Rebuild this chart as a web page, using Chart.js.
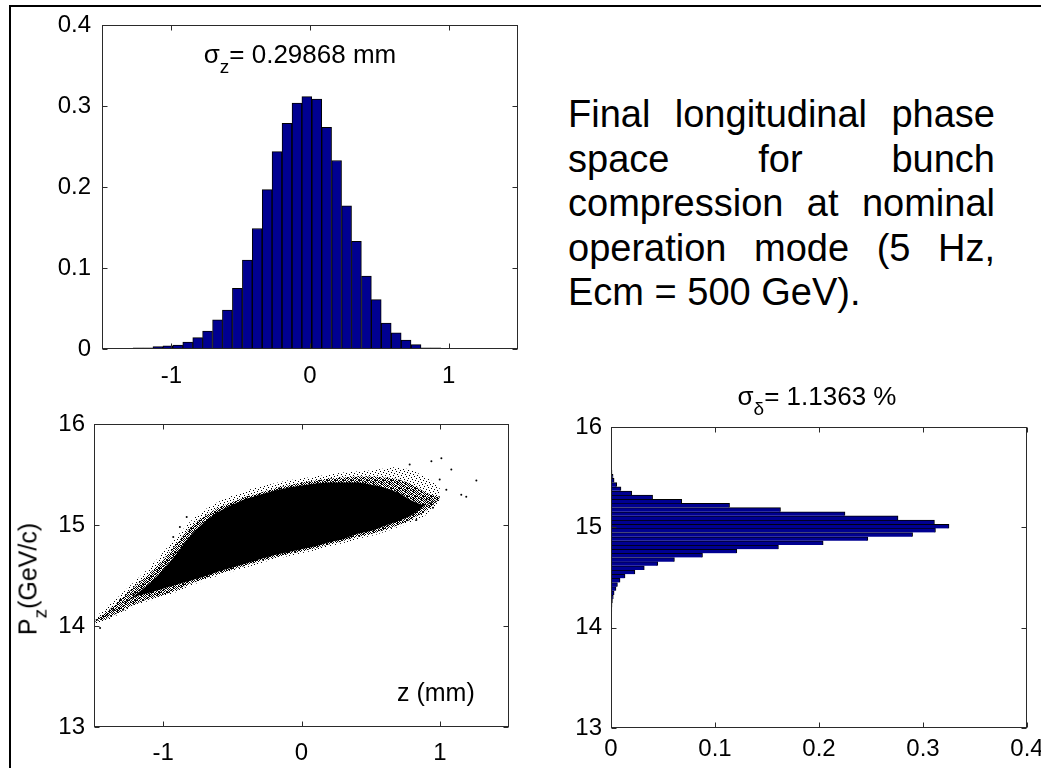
<!DOCTYPE html>
<html>
<head>
<meta charset="utf-8">
<script src="https://cdn.jsdelivr.net/npm/chart.js@4"></script>
<style>
  html, body { margin: 0; padding: 0; background: #fff; }
  body { width: 1041px; height: 768px; overflow: hidden; position: relative; font-family: 'Liberation Sans', Arial, sans-serif; color: #000; }
  .frame { position: absolute; left: 9px; top: 5px; width: 1100px; height: 900px; border-left: 2px solid #000; border-top: 2px solid #000; }
  canvas { position: absolute; }
  .lbl { position: absolute; font-size: 26px; line-height: 26px; white-space: nowrap; }
  .sub { font-size: 19px; position: relative; top: 10px; }
  .note { position: absolute; left: 568px; top: 92px; width: 427px; font-size: 38px; line-height: 44.5px; text-align: justify; }
</style>
</head>
<body>
<div class="frame"></div>
<canvas id="histZ" width="545" height="390" style="left:0;top:0"></canvas>
<canvas id="phase" width="545" height="378" style="left:0;top:390px"></canvas>
<canvas id="histP" width="520" height="378" style="left:545px;top:390px"></canvas>

<div class="lbl" style="left:300px;top:41px;transform:translateX(-50%)">σ<span class="sub">z</span>= 0.29868 mm</div>
<div class="lbl" style="left:817px;top:383px;transform:translateX(-50%)">σ<span class="sub">δ</span>= 1.1363 %</div>
<div class="lbl" style="left:29px;top:579px;transform:translate(-50%,-50%) rotate(-90deg);font-size:25px">P<span class="sub">z</span>(GeV/c)</div>
<div class="lbl" style="left:397px;top:679px;font-size:25px">z (mm)</div>
<div class="note">Final longitudinal phase space for bunch compression at nominal operation mode (5 Hz, Ecm = 500 GeV).</div>

<script>
// longitudinal bunch profile, normalised counts per bin
const zCenters = [-1.240, -1.168, -1.097, -1.025, -0.954, -0.882, -0.810, -0.739, -0.667, -0.596,
  -0.524, -0.452, -0.381, -0.309, -0.238, -0.166, -0.094, -0.023, 0.049, 0.120,
  0.192, 0.264, 0.335, 0.407, 0.478, 0.550, 0.622, 0.693, 0.765, 0.836, 0.908];
const zFreq = [0.0015, 0.0015, 0.003, 0.004, 0.005, 0.0085, 0.014, 0.022, 0.036, 0.048,
  0.075, 0.110, 0.149, 0.197, 0.244, 0.279, 0.304, 0.312, 0.309, 0.274,
  0.233, 0.177, 0.133, 0.090, 0.061, 0.032, 0.020, 0.011, 0.0055, 0.0015, 0.0015];

// momentum profile (GeV/c), normalised counts per bin
const pzCenters = [14.014, 14.056, 14.097, 14.139, 14.180, 14.222, 14.263, 14.305, 14.346, 14.388,
  14.429, 14.471, 14.512, 14.554, 14.595, 14.637, 14.678, 14.720, 14.761, 14.803,
  14.844, 14.886, 14.927, 14.969, 15.010, 15.052, 15.093, 15.135, 15.176, 15.218,
  15.259, 15.301, 15.342, 15.384, 15.425, 15.467, 15.508, 15.550, 15.591];
const pzFreq = [0.0003, 0.0004, 0.0005, 0.0006, 0.0008, 0.001, 0.0014, 0.0022, 0.003, 0.0048,
  0.0062, 0.0087, 0.0135, 0.023, 0.032, 0.045, 0.061, 0.088, 0.121, 0.161,
  0.204, 0.247, 0.290, 0.312, 0.325, 0.311, 0.276, 0.225, 0.163, 0.114,
  0.068, 0.040, 0.020, 0.0096, 0.0055, 0.003, 0.002, 0.001, 0.0006];

// phase space cloud: Pz limits of the sparse halo, the dense band and the solid core along z
const cloudZ = [-1.5, -1.4, -1.3, -1.2, -1.1, -1.0, -0.9, -0.8, -0.7, -0.6, -0.5, -0.4, -0.3,
  -0.2, -0.1, 0, 0.1, 0.2, 0.3, 0.4, 0.5, 0.6, 0.7, 0.8, 0.9, 1.0];
const haloLow = [14.02, 14.06, 14.13, 14.20, 14.25, 14.29, 14.34, 14.40, 14.45, 14.50, 14.54, 14.58, 14.62,
  14.66, 14.69, 14.72, 14.75, 14.79, 14.82, 14.86, 14.89, 14.93, 14.98, 15.03, 15.10, 15.22];
const haloHigh = [14.07, 14.20, 14.32, 14.45, 14.58, 14.73, 14.89, 15.04, 15.15, 15.23, 15.29, 15.34, 15.38,
  15.41, 15.44, 15.46, 15.48, 15.50, 15.52, 15.53, 15.54, 15.56, 15.57, 15.54, 15.47, 15.38];
const midLow = [14.04, 14.08, 14.15, 14.22, 14.27, 14.31, 14.36, 14.42, 14.47, 14.52, 14.56, 14.60, 14.64,
  14.68, 14.71, 14.74, 14.77, 14.81, 14.84, 14.88, 14.91, 14.95, 15.00, 15.06, 15.14, 15.26];
const midHigh = [14.05, 14.15, 14.27, 14.40, 14.52, 14.66, 14.82, 14.98, 15.09, 15.17, 15.23, 15.28, 15.32,
  15.36, 15.39, 15.42, 15.44, 15.46, 15.47, 15.48, 15.48, 15.47, 15.45, 15.40, 15.32, 15.28];
const coreLow = [14.05, 14.12, 14.21, 14.29, 14.33, 14.37, 14.41, 14.45, 14.49, 14.54, 14.58, 14.62, 14.66,
  14.70, 14.73, 14.76, 14.79, 14.83, 14.86, 14.91, 14.94, 14.99, 15.04, 15.10, 15.20, 15.27];
const coreHigh = [14.05, 14.12, 14.21, 14.31, 14.42, 14.56, 14.72, 14.90, 15.03, 15.13, 15.20, 15.26, 15.30,
  15.34, 15.37, 15.39, 15.41, 15.42, 15.42, 15.42, 15.40, 15.37, 15.32, 15.24, 15.20, 15.27];

// isolated particles outside the cloud
const tailZ = [1.011, 0.939, 1.083, 0.782, 1.264, 1.155, 1.191, 0.999, 1.047, 0.903, 0.950, 0.830,
  -1.48, -1.456, -1.408, -1.36, -1.31, -1.29, -1.216, -0.879, -0.927, -0.83];
const tailPz = [15.66, 15.63, 15.55, 15.60, 15.44, 15.30, 15.28, 15.45, 15.35, 15.25, 15.17, 15.05,
  14.06, 13.98, 14.11, 14.16, 14.26, 14.16, 14.32, 14.98, 14.88, 15.08];

const zTicks = [-1, 0, 1];
const freqTicks = [0, 0.1, 0.2, 0.3, 0.4];
const pzTicks = [13, 14, 15, 16];

Chart.defaults.font.family = "'Liberation Sans', Arial, sans-serif";
Chart.defaults.font.size = 24;
Chart.defaults.color = '#000';
Chart.defaults.animation = false;
Chart.defaults.plugins.legend.display = false;
Chart.defaults.plugins.tooltip.enabled = false;

const BAR_BLUE = 'rgb(0, 0, 145)';

// stipple fills so the cloud edges read as loose dots
function stipple(rows) {
  const c = document.createElement('canvas');
  c.width = rows[0].length;
  c.height = rows.length;
  const g = c.getContext('2d');
  g.fillStyle = '#000';
  rows.forEach((r, y) => {
    for (let x = 0; x < r.length; x++) if (r[x] === '1') g.fillRect(x, y, 1, 1);
  });
  return g.createPattern(c, 'repeat');
}
const sparseDots = stipple(['10000000', '00001000', '00000001', '00100000',
  '00000100', '01000000', '00000010', '00010000']);
const denseDots = stipple(['10110100', '01001011', '11010010', '00101101',
  '10110010', '01001101', '10100110', '01011001']);

// closed axes box with short inward tick marks on every side
const boxTicks = {
  id: 'boxTicks',
  afterDraw(chart) {
    const { ctx, chartArea: a, scales } = chart;
    const L = Math.round(a.left) + 0.5, R = Math.round(a.right) - 0.5;
    const T = Math.round(a.top) + 0.5, B = Math.round(a.bottom) - 0.5;
    ctx.save();
    ctx.strokeStyle = '#2a2a2a';
    ctx.lineWidth = 1;
    ctx.strokeRect(L, T, R - L, B - T);
    ctx.beginPath();
    scales.x.ticks.forEach(t => {
      const px = Math.round(scales.x.getPixelForValue(t.value)) + 0.5;
      ctx.moveTo(px, B); ctx.lineTo(px, B - 5);
      ctx.moveTo(px, T); ctx.lineTo(px, T + 5);
    });
    scales.y.ticks.forEach(t => {
      const py = Math.round(scales.y.getPixelForValue(t.value)) + 0.5;
      ctx.moveTo(L, py); ctx.lineTo(L + 5, py);
      ctx.moveTo(R, py); ctx.lineTo(R - 5, py);
    });
    ctx.stroke();
    ctx.restore();
  }
};

// linear axis with fixed tick values and a fixed thickness
function axis(min, max, values, size, pad) {
  return {
    type: 'linear', min, max, offset: false,
    grid: { display: false, drawTicks: false },
    border: { display: false },
    ticks: { padding: pad, autoSkip: false, maxRotation: 0, callback: v => String(v) },
    afterBuildTicks: s => { s.ticks = values.map(v => ({ value: v })); },
    afterFit: s => { if (s.isHorizontal()) s.height = size; else s.width = size; }
  };
}

// z histogram
new Chart(document.getElementById('histZ'), {
  type: 'bar',
  data: {
    datasets: [{
      data: zCenters.map((z, i) => ({ x: z, y: zFreq[i] })),
      backgroundColor: BAR_BLUE,
      borderColor: '#000',
      borderWidth: 1,
      barPercentage: 1,
      categoryPercentage: 1
    }]
  },
  options: {
    responsive: false,
    layout: { padding: { top: 24, right: 27, left: 0, bottom: 0 } },
    scales: {
      x: axis(-1.5, 1.5, zTicks, 41, 13),
      y: axis(0, 0.4, freqTicks, 102, 11)
    }
  },
  plugins: [boxTicks]
});

// z - Pz phase space
const band = (vals, fill, color) => ({
  type: 'line',
  data: cloudZ.map((z, i) => ({ x: z, y: vals[i] })),
  borderWidth: 0,
  pointRadius: 0,
  tension: 0.3,
  fill: fill,
  backgroundColor: color
});

new Chart(document.getElementById('phase'), {
  type: 'line',
  data: {
    datasets: [
      band(haloHigh, '+1', sparseDots),
      band(haloLow, false, 'transparent'),
      band(midHigh, '+1', denseDots),
      band(midLow, false, 'transparent'),
      band(coreHigh, '+1', '#000'),
      band(coreLow, false, 'transparent'),
      {
        type: 'scatter',
        data: tailZ.map((z, i) => ({ x: z, y: tailPz[i] })),
        pointRadius: 1,
        borderWidth: 0,
        backgroundColor: '#000'
      }
    ]
  },
  options: {
    responsive: false,
    layout: { padding: { top: 34, right: 36, left: 0, bottom: 0 } },
    scales: {
      x: axis(-1.5, 1.5, zTicks, 41, 12),
      y: axis(13, 16, pzTicks, 94, 9)
    }
  },
  plugins: [boxTicks]
});

// Pz histogram, bars along x
new Chart(document.getElementById('histP'), {
  type: 'bar',
  data: {
    datasets: [{
      data: pzCenters.map((p, i) => ({ x: pzFreq[i], y: p })),
      backgroundColor: BAR_BLUE,
      borderColor: '#000',
      borderWidth: 1,
      borderSkipped: 'bottom',
      barPercentage: 1,
      categoryPercentage: 1
    }]
  },
  options: {
    responsive: false,
    indexAxis: 'y',
    layout: { padding: { top: 37, right: 38, left: 0, bottom: 0 } },
    scales: {
      x: axis(0, 0.4, freqTicks, 40, 7),
      y: axis(13, 16, pzTicks, 66, 9)
    }
  },
  plugins: [boxTicks]
});
</script>
</body>
</html>
